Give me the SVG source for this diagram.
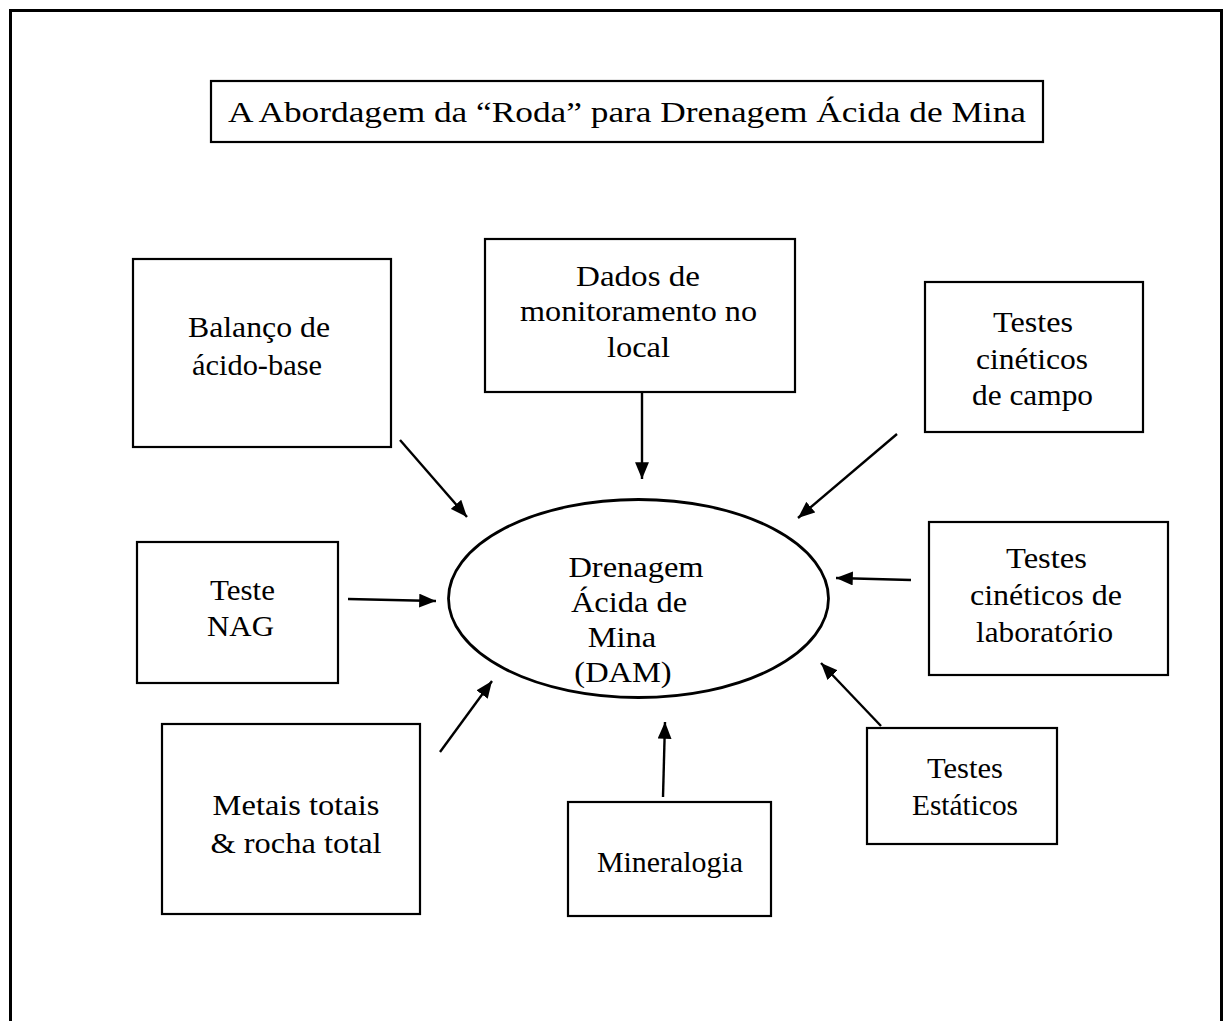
<svg xmlns="http://www.w3.org/2000/svg" width="1231" height="1021" viewBox="0 0 1231 1021">
<style>
.box{fill:#fff;stroke:#000;stroke-width:2.2}
.t{font-family:"Liberation Serif","Times New Roman",serif;font-size:29px;fill:#000;text-anchor:middle}
.c{stroke:#000;stroke-width:2.4;fill:none;marker-end:url(#ah)}
</style>
<defs>
<marker id="ah" viewBox="0 0 10 10" refX="10" refY="5" markerWidth="7" markerHeight="5.8" markerUnits="strokeWidth" orient="auto" preserveAspectRatio="none">
<path d="M0,0 L10,5 L0,10 z" fill="#000"/>
</marker>
</defs>
<rect width="1231" height="1021" fill="#fff"/>
<path d="M10.5,1030 V10.5 H1221.5 V1030" fill="none" stroke="#000" stroke-width="3"/>
<g id="title">
<rect class="box" x="211" y="81" width="832" height="61" stroke-width="1.4"/>
<text class="t" x="627" y="122" font-size="31" textLength="798" lengthAdjust="spacingAndGlyphs">A Abordagem da “Roda” para Drenagem Ácida de Mina</text>
</g>
<g id="balanco">
<rect class="box" x="133" y="259" width="258" height="188"/>
<text class="t" x="259" y="337" textLength="142" lengthAdjust="spacingAndGlyphs">Balanço de</text>
<text class="t" x="257" y="375" textLength="130" lengthAdjust="spacingAndGlyphs">ácido-base</text>
</g>
<g id="dados">
<rect class="box" x="485" y="239" width="310" height="153"/>
<text class="t" x="638" y="286" textLength="124" lengthAdjust="spacingAndGlyphs">Dados de</text>
<text class="t" x="638.5" y="321" textLength="237" lengthAdjust="spacingAndGlyphs">monitoramento no</text>
<text class="t" x="638.5" y="357" textLength="63" lengthAdjust="spacingAndGlyphs">local</text>
</g>
<g id="campo">
<rect class="box" x="925" y="282" width="218" height="150"/>
<text class="t" x="1033" y="332" textLength="80" lengthAdjust="spacingAndGlyphs">Testes</text>
<text class="t" x="1032" y="369" textLength="112" lengthAdjust="spacingAndGlyphs">cinéticos</text>
<text class="t" x="1032.5" y="405" textLength="121" lengthAdjust="spacingAndGlyphs">de campo</text>
</g>
<g id="nag">
<rect class="box" x="137" y="542" width="201" height="141"/>
<text class="t" x="242.5" y="600" textLength="65" lengthAdjust="spacingAndGlyphs">Teste</text>
<text class="t" x="240.5" y="636" textLength="67" lengthAdjust="spacingAndGlyphs">NAG</text>
</g>
<g id="dam">
<ellipse cx="638.5" cy="598.5" rx="190" ry="99" fill="#fff" stroke="#000" stroke-width="2.8"/>
<text class="t" transform="translate(636,577) scale(1.12 1)">Drenagem</text>
<text class="t" transform="translate(629,612) scale(1.12 1)">Ácida de</text>
<text class="t" transform="translate(622,647) scale(1.12 1)">Mina</text>
<text class="t" transform="translate(623,682) scale(1.12 1)">(DAM)</text>
</g>
<g id="lab">
<rect class="box" x="929" y="522" width="239" height="153"/>
<text class="t" x="1046.5" y="568" textLength="81" lengthAdjust="spacingAndGlyphs">Testes</text>
<text class="t" x="1046" y="605" textLength="152" lengthAdjust="spacingAndGlyphs">cinéticos de</text>
<text class="t" x="1044.5" y="642" textLength="137" lengthAdjust="spacingAndGlyphs">laboratório</text>
</g>
<g id="metais">
<rect class="box" x="162" y="724" width="258" height="190"/>
<text class="t" transform="translate(296,815) scale(1.12 1)">Metais totais</text>
<text class="t" transform="translate(296,853) scale(1.12 1)">&amp; rocha total</text>
</g>
<g id="mineralogia">
<rect class="box" x="568" y="802" width="203" height="114"/>
<text class="t" x="670" y="872" textLength="146" lengthAdjust="spacingAndGlyphs">Mineralogia</text>
</g>
<g id="estaticos">
<rect class="box" x="867" y="728" width="190" height="116"/>
<text class="t" x="965" y="778" textLength="76" lengthAdjust="spacingAndGlyphs">Testes</text>
<text class="t" x="965" y="815" textLength="106" lengthAdjust="spacingAndGlyphs">Estáticos</text>
</g>
<g id="connectors">
<line class="c" x1="400" y1="440" x2="467" y2="517"/>
<line class="c" x1="642" y1="393" x2="642" y2="479"/>
<line class="c" x1="897" y1="434" x2="798" y2="518"/>
<line class="c" x1="348" y1="599" x2="436" y2="601"/>
<line class="c" x1="911" y1="580" x2="836" y2="578"/>
<line class="c" x1="440" y1="752" x2="492" y2="681"/>
<line class="c" x1="663" y1="797" x2="665" y2="722"/>
<line class="c" x1="881" y1="726" x2="821" y2="663"/>
</g>
</svg>
